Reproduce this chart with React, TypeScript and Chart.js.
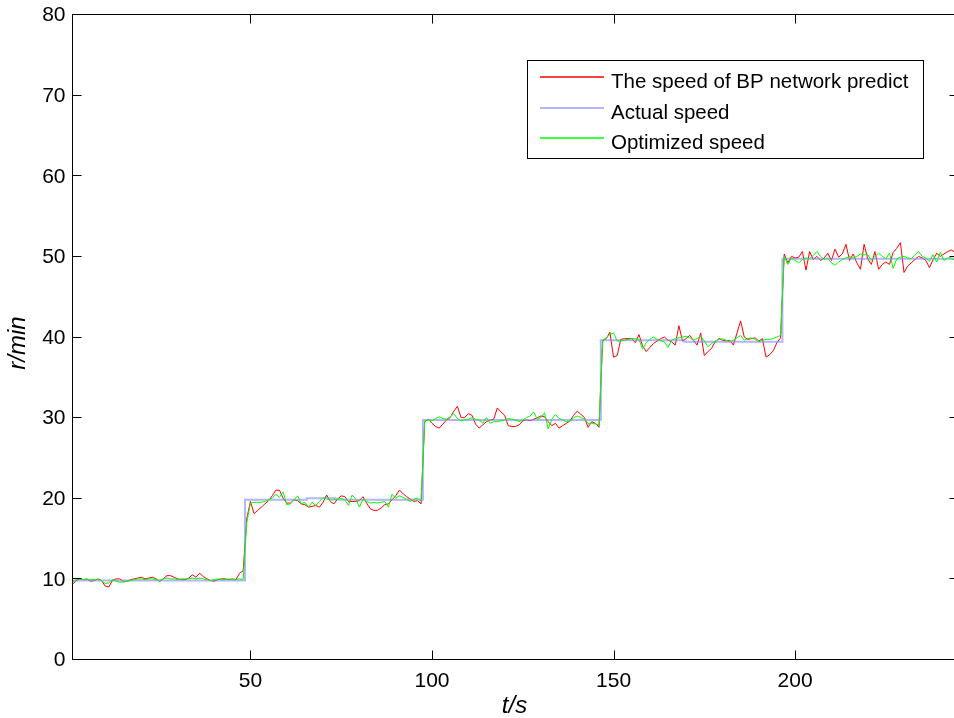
import React, { useEffect, useRef } from "react";
import { Chart, registerables } from "chart.js";

Chart.register(...registerables);

// time axis (s), one sample per second
const timeSteps: number[] = Array.from({ length: 245 }, (_, i) => i + 1);

// BP network prediction, per speed level
const bpLevel10 = [9.3, 9.8, 10.0, 9.9, 10.0, 9.7, 9.8, 10.0, 9.8, 9.1, 9.0, 9.8, 10.0, 10.0, 9.7, 9.7, 9.9, 10.0, 10.1, 10.2, 10.0, 10.1, 10.2, 10.0, 9.7, 10.0, 10.4, 10.4, 10.2, 10.0, 9.9, 9.9, 10.1, 10.5, 10.2, 10.7, 10.3, 10.0, 9.8, 9.7, 9.9, 10.0, 10.0, 9.9, 10.0, 9.9, 10.7, 11.0];
const bpLevel20 = [17.5, 19.6, 18.1, 18.5, 18.9, 19.3, 19.7, 20.3, 21.0, 21.0, 20.0, 19.4, 19.4, 19.8, 19.7, 19.3, 19.2, 18.9, 19.0, 19.1, 18.9, 19.5, 20.4, 19.6, 19.3, 19.9, 20.3, 20.2, 19.6, 19.6, 19.6, 19.7, 20.2, 19.4, 18.7, 18.5, 18.5, 18.8, 19.2, 19.3, 19.8, 20.3, 21.0, 20.6, 20.2, 19.9, 19.6, 19.7, 19.3];
const bpLevel30 = [29.5, 29.8, 29.3, 28.9, 28.7, 29.2, 29.7, 30.0, 30.8, 31.4, 30.0, 30.0, 30.5, 30.3, 29.2, 28.7, 29.1, 29.5, 29.7, 29.8, 31.2, 30.7, 30.3, 29.0, 28.9, 28.9, 29.1, 29.6, 29.7, 29.6, 29.8, 30.0, 30.2, 30.1, 29.5, 29.0, 29.3, 28.7, 29.0, 29.3, 29.6, 30.3, 30.8, 30.4, 30.0, 28.8, 29.5, 29.3, 28.8];
const bpLevel40 = [39.5, 39.8, 40.6, 37.5, 37.7, 39.7, 39.8, 39.8, 39.8, 39.3, 40.3, 38.9, 38.2, 38.7, 39.2, 39.5, 39.8, 40.0, 39.6, 39.4, 39.0, 41.4, 39.5, 39.8, 40.2, 39.6, 39.0, 40.5, 37.7, 38.2, 38.6, 39.4, 39.8, 39.6, 39.5, 39.6, 39.0, 40.5, 42.0, 40.0, 39.7, 39.8, 39.9, 39.5, 39.8, 37.5, 37.8, 38.3, 39.3, 39.9];
const bpLevel50 = [50.3, 49.2, 50.0, 49.8, 49.9, 50.6, 48.3, 50.6, 49.6, 50.0, 49.5, 49.8, 50.4, 49.5, 50.9, 49.9, 50.3, 51.5, 49.5, 50.3, 49.2, 48.4, 51.5, 49.7, 49.0, 50.6, 48.4, 49.0, 49.3, 49.0, 50.5, 51.0, 51.7, 48.0, 48.8, 49.2, 49.6, 50.0, 49.8, 49.5, 48.6, 49.6, 50.4, 50.0, 50.3, 50.6, 50.8, 50.5, 50.2];

// optimized speed, per speed level
const optLevel10 = [9.6, 9.9, 10.0, 9.9, 9.9, 9.9, 9.9, 9.9, 9.8, 9.4, 9.5, 9.9, 9.7, 9.6, 9.6, 9.7, 9.8, 9.9, 10.0, 10.0, 9.9, 10.0, 10.0, 9.9, 9.8, 10.0, 10.1, 10.0, 10.0, 9.9, 10.0, 10.0, 10.0, 10.1, 10.0, 10.1, 10.0, 9.9, 9.8, 9.9, 10.0, 9.9, 9.9, 10.0, 9.9, 9.9, 10.0, 9.9];
const optLevel20 = [17.0, 19.4, 19.5, 19.5, 19.5, 19.6, 19.8, 20.0, 20.5, 20.1, 20.8, 19.2, 19.3, 19.8, 20.3, 19.3, 19.5, 18.9, 19.5, 19.1, 19.6, 20.1, 19.9, 19.8, 19.8, 19.9, 20.0, 19.8, 19.1, 20.4, 19.9, 18.9, 19.9, 19.6, 19.4, 19.5, 19.4, 19.5, 19.6, 18.9, 20.5, 20.0, 20.3, 20.1, 19.9, 19.6, 19.9, 20.0, 19.7];
const optLevel30 = [29.6, 29.7, 29.6, 29.9, 30.1, 29.9, 29.8, 30.1, 30.5, 29.9, 29.6, 29.7, 29.8, 30.0, 29.8, 29.7, 29.3, 30.0, 29.3, 29.5, 29.5, 29.6, 29.7, 29.9, 29.8, 29.7, 29.5, 29.7, 30.0, 30.2, 30.7, 29.8, 30.0, 30.6, 28.6, 29.8, 30.4, 29.9, 29.7, 29.5, 29.5, 30.0, 30.2, 30.0, 29.8, 29.3, 29.3, 29.2, 29.1];
const optLevel40 = [39.6, 39.9, 40.3, 40.5, 39.5, 39.5, 39.6, 39.7, 39.8, 39.8, 39.7, 38.5, 39.3, 39.7, 40.0, 39.7, 39.5, 39.4, 38.7, 39.6, 39.8, 39.9, 40.0, 40.1, 39.9, 39.6, 39.8, 40.1, 39.5, 38.8, 39.2, 39.5, 39.7, 39.8, 39.6, 39.4, 39.6, 39.9, 40.2, 39.6, 39.8, 39.9, 39.7, 39.4, 39.6, 39.7, 39.7, 39.8, 40.0, 40.2];
const optLevel50 = [50.0, 49.0, 49.8, 49.5, 49.2, 49.6, 49.8, 49.7, 50.1, 50.6, 50.0, 49.6, 49.8, 49.2, 48.9, 49.3, 49.6, 49.8, 50.0, 49.8, 50.0, 50.3, 50.2, 50.2, 49.5, 50.0, 50.4, 50.0, 49.7, 50.4, 48.5, 49.7, 49.9, 50.0, 49.8, 49.7, 50.2, 50.6, 50.0, 49.8, 49.4, 50.2, 49.3, 50.5, 49.5, 49.8, 49.8, 49.5, 49.6];

const bpPredict = [...bpLevel10, ...bpLevel20, ...bpLevel30, ...bpLevel40, ...bpLevel50];
const optimized = [...optLevel10, ...optLevel20, ...optLevel30, ...optLevel40, ...optLevel50];

// actual speed: step corners (time, value)
const actualT = [1, 48.5, 48.5, 65.5, 65.5, 73.5, 73.5, 97.5, 97.5, 146.5, 146.5, 169.5, 169.5, 196.5, 196.5, 245];
const actualV = [9.8, 9.8, 19.8, 19.8, 20.0, 20.0, 19.8, 19.8, 29.7, 29.7, 39.6, 39.6, 39.4, 39.4, 49.7, 49.7];

const xTicks = [50, 100, 150, 200];
const yTicks = [0, 10, 20, 30, 40, 50, 60, 70, 80];
const seriesLabels = ["The speed of BP network predict", "Actual speed", "Optimized speed"];
const seriesColors = ["#ff0000", "rgba(130,130,255,0.6)", "#00ff00"];
const seriesWidths = [1, 2, 1];
const legendWidths = [1.5, 2, 1.5];
const xTitle = "t/s";
const yTitle = "r/min";

const CANVAS_W = 980;
const CANVAS_H = 718;
const FONT = "'Liberation Sans', Arial, Helvetica, sans-serif";

const matlabAxes = {
  id: "matlabAxes",
  afterDatasetsDraw(chart: any) {
    const { ctx, chartArea: a, scales } = chart;
    const xs = scales.x;
    const ys = scales.y;
    ctx.save();
    ctx.strokeStyle = "#000";
    ctx.lineWidth = 1;
    ctx.strokeRect(a.left, a.top, a.right - a.left, a.bottom - a.top);
    const tl = 9;
    ctx.beginPath();
    xTicks.forEach((v) => {
      const px = Math.round(xs.getPixelForValue(v)) + 0.5;
      ctx.moveTo(px, a.bottom);
      ctx.lineTo(px, a.bottom - tl);
      ctx.moveTo(px, a.top);
      ctx.lineTo(px, a.top + tl);
    });
    yTicks.forEach((v) => {
      const py = Math.round(ys.getPixelForValue(v) - 0.5) + 0.5;
      ctx.moveTo(a.left, py);
      ctx.lineTo(a.left + tl, py);
      ctx.moveTo(a.right, py);
      ctx.lineTo(a.right - tl, py);
    });
    ctx.stroke();

    ctx.fillStyle = "#000";
    ctx.font = `21px ${FONT}`;
    ctx.textAlign = "center";
    ctx.textBaseline = "alphabetic";
    xTicks.forEach((v) => ctx.fillText(String(v), xs.getPixelForValue(v), 687));
    ctx.textAlign = "right";
    ctx.textBaseline = "middle";
    yTicks.forEach((v) => ctx.fillText(String(v), 65.5, ys.getPixelForValue(v) + 1));

    ctx.font = `italic 24px ${FONT}`;
    ctx.textAlign = "center";
    ctx.textBaseline = "alphabetic";
    ctx.fillText(xTitle, (a.left + a.right) / 2 - 1, 713);
    ctx.save();
    ctx.translate(25, 343);
    ctx.rotate(-Math.PI / 2);
    ctx.fillText(yTitle, 0, 0);
    ctx.restore();

    // legend box
    const lx = 527.5, ly = 60.5, lw = 396, lh = 98;
    ctx.fillStyle = "#fff";
    ctx.fillRect(lx, ly, lw, lh);
    ctx.strokeStyle = "#000";
    ctx.lineWidth = 1;
    ctx.strokeRect(lx, ly, lw, lh);
    const baselines = [87.5, 118.5, 148.5];
    ctx.font = `20.5px ${FONT}`;
    ctx.textAlign = "left";
    ctx.textBaseline = "alphabetic";
    seriesLabels.forEach((label, i) => {
      const yLine = Math.round(baselines[i] - 10.5);
      ctx.beginPath();
      ctx.strokeStyle = seriesColors[i];
      ctx.lineWidth = legendWidths[i];
      ctx.moveTo(540, yLine);
      ctx.lineTo(604, yLine);
      ctx.stroke();
      ctx.fillStyle = "#000";
      ctx.fillText(label, 611, baselines[i]);
    });
    ctx.restore();
  },
};

export default function App() {
  const canvasRef = useRef<HTMLCanvasElement | null>(null);

  useEffect(() => {
    const canvas = canvasRef.current;
    if (!canvas) return;
    const chart = new Chart(canvas, {
      type: "line",
      data: {
        datasets: [
          {
            label: seriesLabels[0],
            data: timeSteps.map((t, i) => ({ x: t, y: bpPredict[i] })),
            borderColor: seriesColors[0],
            borderWidth: seriesWidths[0],
            pointRadius: 0,
            tension: 0,
            order: 2,
          },
          {
            label: seriesLabels[1],
            data: actualT.map((t, i) => ({ x: t, y: actualV[i] })),
            borderColor: seriesColors[1],
            borderWidth: seriesWidths[1],
            pointRadius: 0,
            tension: 0,
            order: 1,
          },
          {
            label: seriesLabels[2],
            data: timeSteps.map((t, i) => ({ x: t, y: optimized[i] })),
            borderColor: seriesColors[2],
            borderWidth: seriesWidths[2],
            pointRadius: 0,
            tension: 0,
            order: 0,
          },
        ],
      },
      options: {
        animation: false,
        responsive: false,
        maintainAspectRatio: false,
        devicePixelRatio: 1,
        events: [],
        layout: {
          padding: { left: 72.5, top: 14.5, right: CANVAS_W - 958.5, bottom: CANVAS_H - 659.5 },
        },
        scales: {
          x: { type: "linear", min: 1, max: 245, display: false },
          y: { type: "linear", min: 0, max: 80, display: false },
        },
        plugins: {
          legend: { display: false },
          tooltip: { enabled: false },
        },
      },
      plugins: [matlabAxes],
    });
    return () => chart.destroy();
  }, []);

  return (
    <div
      style={{
        position: "fixed",
        left: 0,
        top: 0,
        width: 954,
        height: 718,
        overflow: "hidden",
        background: "#fff",
      }}
    >
      <canvas
        ref={canvasRef}
        width={CANVAS_W}
        height={CANVAS_H}
        style={{ display: "block", width: CANVAS_W, height: CANVAS_H }}
      />
    </div>
  );
}
